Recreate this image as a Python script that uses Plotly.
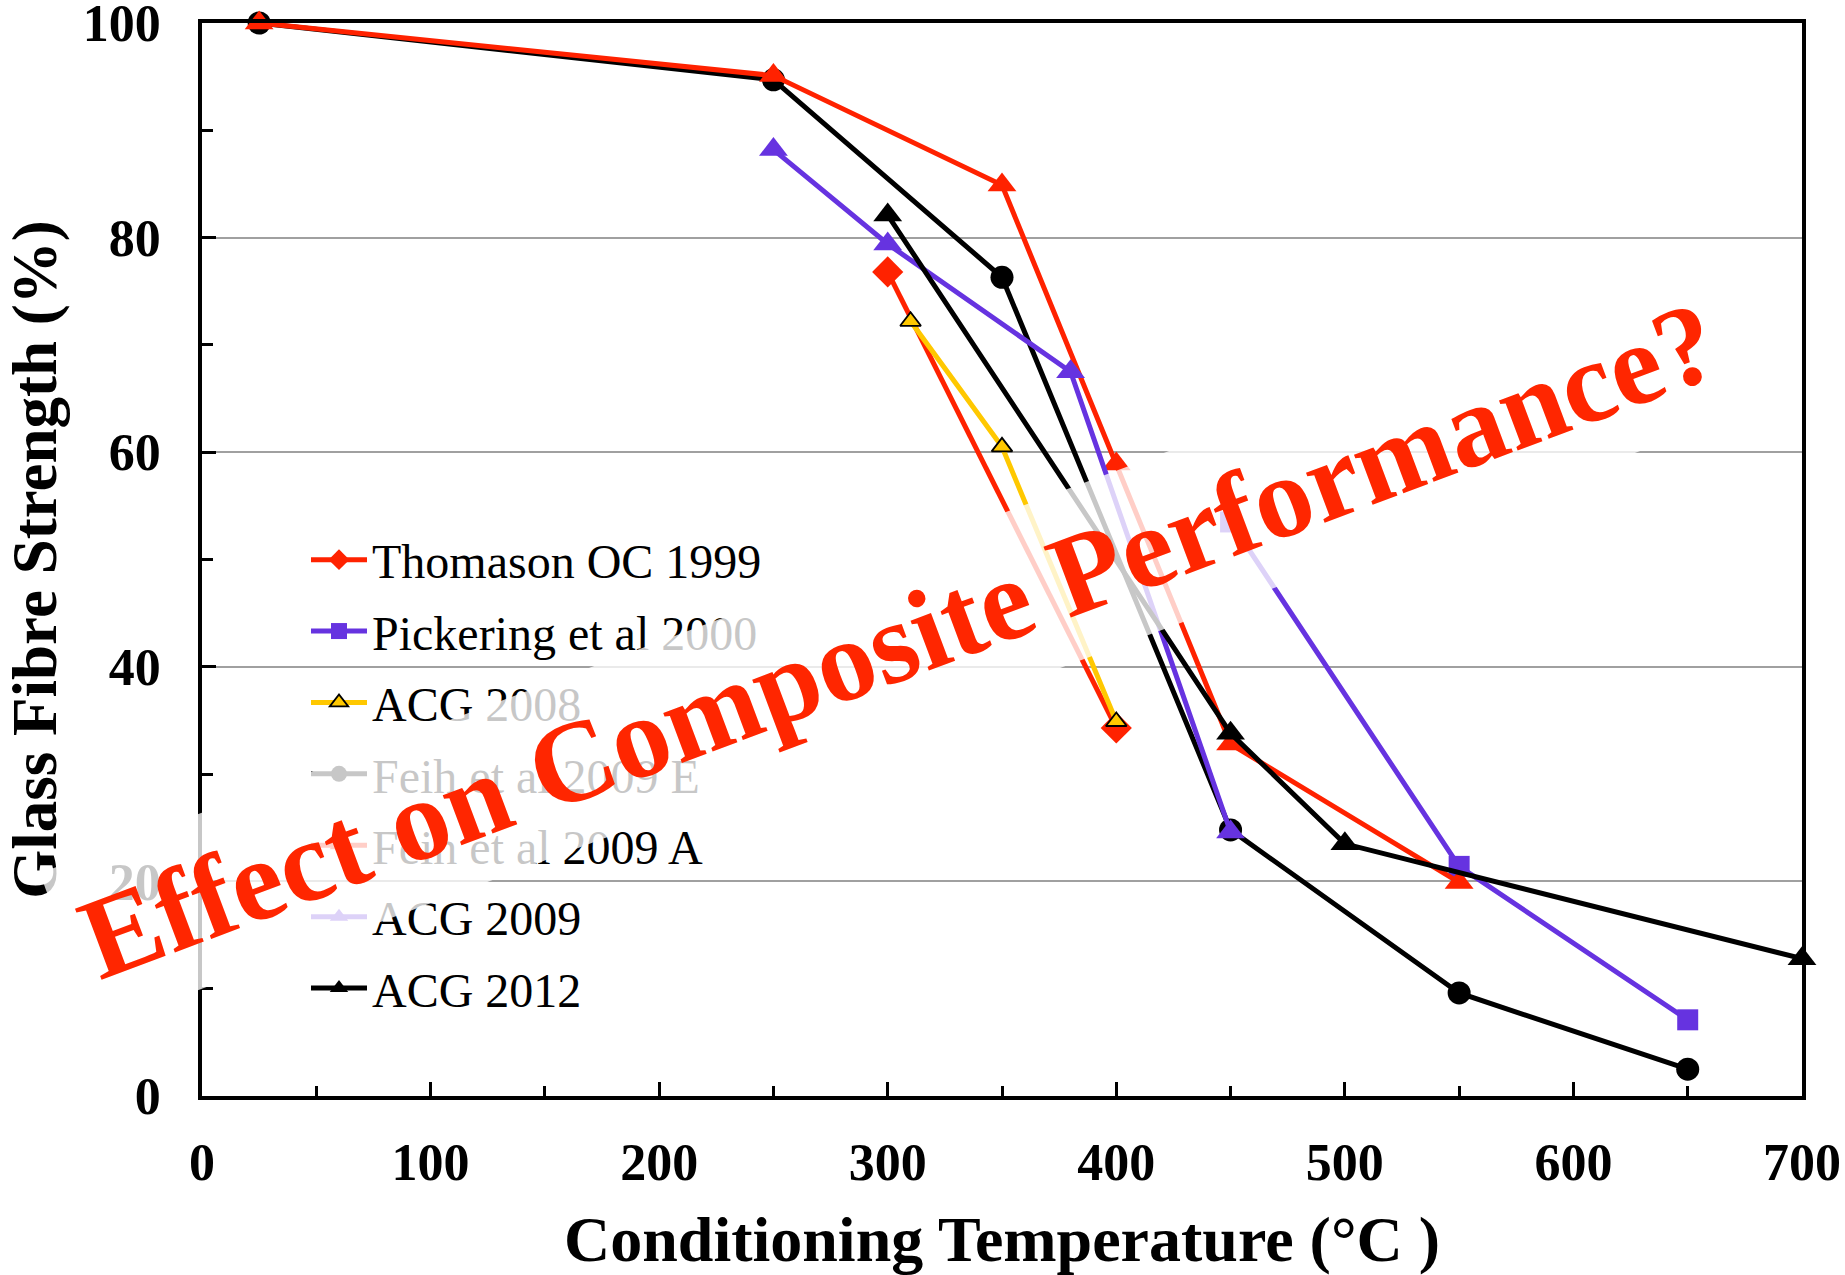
import plotly.graph_objects as go

# ---- data ----
series_names = ["Thomason OC 1999", "Pickering et al 2000", "ACG 2008",
                "Feih et al 2009 E", "Feih et al 2009 A", "ACG 2009", "ACG 2012"]

thomason_x = [300, 400]
thomason_y = [76.8, 34.3]
pickering_x = [450, 550, 650]
pickering_y = [53.5, 21.4, 7.1]
acg2008_x = [310, 350, 400]
acg2008_y = [72.2, 60.5, 34.9]
feihE_x = [25, 250, 350, 450, 550, 650]
feihE_y = [100, 94.7, 76.3, 24.8, 9.6, 2.5]
feihA_x = [25, 250, 350, 400, 450, 550]
feihA_y = [100, 95.1, 84.9, 58.9, 32.8, 19.9]
acg2009_x = [250, 300, 380, 450]
acg2009_y = [88.2, 79.4, 67.5, 24.6]
acg2012_x = [300, 450, 500, 700]
acg2012_y = [82.1, 33.8, 23.5, 12.8]

x_ticks = [0, 100, 200, 300, 400, 500, 600, 700]
y_ticks = [0, 20, 40, 60, 80, 100]
overlay_text = "Effect on Composite Performance?"

RED = "#ff2200"
PURPLE = "#6633e0"
YELLOW = "#ffc800"
BLACK = "#000000"
FONT = "Liberation Serif, Times New Roman, serif"

fig = go.Figure()

def add(name, xs, ys, color, symbol, msize, mline_color=None, mline_w=0):
    fig.add_trace(go.Scatter(
        x=xs, y=ys, name=name, mode="lines+markers", legendgroup=name,
        line=dict(color=color, width=5),
        marker=dict(symbol=symbol, size=msize, color=color,
                    line=dict(color=mline_color or color, width=mline_w)),
        cliponaxis=False))

add(series_names[0], thomason_x, thomason_y, RED, "diamond", 24)
add(series_names[1], pickering_x, pickering_y, PURPLE, "square", 21)
add(series_names[2], acg2008_x, acg2008_y, YELLOW, "triangle-up", 18, BLACK, 1.8)
add(series_names[3], feihE_x, feihE_y, BLACK, "circle", 23)
add(series_names[4], feihA_x, feihA_y, RED, "triangle-up", 25)
add(series_names[5], acg2009_x, acg2009_y, PURPLE, "triangle-up", 25)
add(series_names[6], acg2012_x, acg2012_y, BLACK, "triangle-up", 25)

fig.add_annotation(
    x=305, y=42.5, xref="x", yref="y", text=overlay_text, showarrow=False,
    xanchor="center", yanchor="middle", textangle=-20.5,
    font=dict(family=FONT, size=116, color="#ff2600", weight="bold"),
    bgcolor="rgba(255,255,255,0.78)", borderpad=18)

axis_common = dict(
    showline=True, linecolor="black", linewidth=3.5, mirror=True,
    ticks="inside", tickcolor="black", tickwidth=3, ticklen=14,
    tickfont=dict(family=FONT, size=52, color="black", weight="bold"),
    ticklabeloverflow="allow", zeroline=False, automargin=False)

fig.update_xaxes(range=[0, 700], tickvals=x_ticks, showgrid=False,
                 ticklabelstandoff=18,
                 minor=dict(dtick=50, ticks="inside", ticklen=10, tickwidth=3, tickcolor="black"),
                 title=dict(text="Conditioning Temperature (°C )",
                            font=dict(family=FONT, size=64, color="black", weight="bold"),
                            standoff=27),
                 **axis_common)
fig.update_yaxes(range=[0, 100], tickvals=y_ticks, showgrid=True,
                 gridcolor="#a0a0a0", gridwidth=2,
                 ticklabelstandoff=27,
                 minor=dict(dtick=10, ticks="inside", ticklen=11, tickwidth=3, tickcolor="black", showgrid=False),
                 title=dict(text="Glass Fibre Strength (%)",
                            font=dict(family=FONT, size=63, color="black", weight="bold"),
                            standoff=40),
                 **axis_common)

fig.update_layout(
    width=1845, height=1275,
    margin=dict(l=202, r=43, t=23, b=179),
    paper_bgcolor="white", plot_bgcolor="white",
    showlegend=True,
    legend=dict(x=0.065, y=0.535, xanchor="left", yanchor="top",
                bgcolor="rgba(0,0,0,0)", borderwidth=0,
                font=dict(family=FONT, size=48, color="black"),
                tracegroupgap=6, itemwidth=56),
)

fig.write_html("out.html")
